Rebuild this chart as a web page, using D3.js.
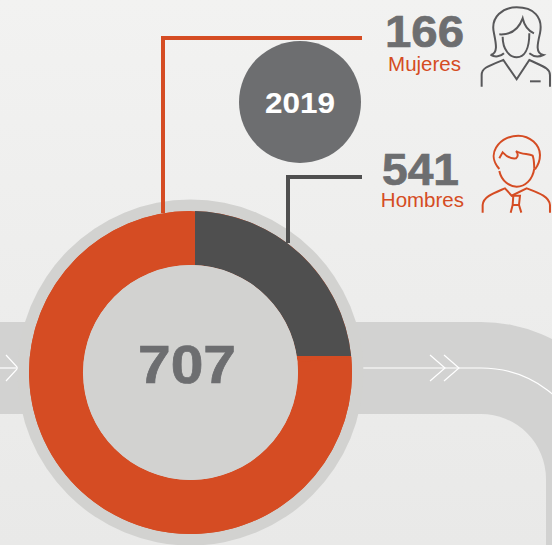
<!DOCTYPE html>
<html>
<head>
<meta charset="utf-8">
<script src="https://cdn.jsdelivr.net/npm/d3@7"></script>
<style>
  html, body { margin: 0; padding: 0; background: #efefef; overflow: hidden; }
  text { font-family: "Liberation Sans", Arial, sans-serif; }
</style>
</head>
<body>
<div id="chart"></div>
<script>
const categories = ["Hombres", "Mujeres"];
const values = [541, 166];
const total = 707;
const year = "2019";

const width = 552, height = 545;
const orange = "#d54c23", dark = "#4f4f4f", grey = "#6d6e70", band = "#d2d2d1";

const svg = d3.select("#chart").append("svg")
  .attr("width", width)
  .attr("height", height)
  .style("display", "block");

// Background
const defs = svg.append("defs");
const grad = defs.append("linearGradient")
  .attr("id", "bg").attr("x1", 0).attr("x2", 0).attr("y1", 0).attr("y2", 1);
grad.append("stop").attr("offset", "0%").attr("stop-color", "#f2f2f1");
grad.append("stop").attr("offset", "100%").attr("stop-color", "#e9e9e8");
svg.append("rect").attr("width", width).attr("height", height).attr("fill", "url(#bg)");

// Road behind the donut
const road = d3.path();
road.moveTo(0, 322);
road.lineTo(481, 322);
road.arc(481, 479, 157, -Math.PI / 2, 0);
road.lineTo(638, 545);
road.lineTo(546, 545);
road.lineTo(546, 479);
road.arc(481, 479, 65, 0, -Math.PI / 2, true);
road.lineTo(0, 414);
road.closePath();
svg.append("path").attr("d", road.toString()).attr("fill", band);

const roadLine = d3.path();
roadLine.moveTo(363, 368);
roadLine.lineTo(481, 368);
roadLine.arc(481, 479, 111, -Math.PI / 2, -0.3);
svg.append("path").attr("d", roadLine.toString())
  .attr("fill", "none").attr("stroke", "#fff").attr("stroke-width", 1.2);
svg.append("line").attr("x1", 0).attr("x2", 18).attr("y1", 368).attr("y2", 368)
  .attr("stroke", "#fff").attr("stroke-width", 1.2);

// Chevrons
[[18, 12], [445, 15], [459, 15]].forEach(([x, w]) => {
  svg.append("path")
    .attr("d", `M${x - w},355 L${x},368 L${x - w},381`)
    .attr("fill", "none").attr("stroke", "#fff").attr("stroke-width", 1.2);
});

// Donut
const cx = 190.5, cy = 372.5;
const donut = svg.append("g").attr("transform", `translate(${cx},${cy})`);
donut.append("circle").attr("r", 173).attr("fill", "#d2d2d0");

const pie = d3.pie().sort(null).value(d => d.value)
  .startAngle(2 * Math.PI * values[1] / total)
  .endAngle(2 * Math.PI + 2 * Math.PI * values[1] / total);
const arc = d3.arc().innerRadius(107.5).outerRadius(161.5);
const color = d3.scaleOrdinal().domain(categories).range([orange, dark]);

// The dark slice has straight cut edges in the original, not radial ones
defs.append("clipPath").attr("id", "cut")
  .append("rect").attr("x", 4.5).attr("y", -200).attr("width", 200).attr("height", 183.5);

donut.append("path")
  .attr("d", arc({ startAngle: 0, endAngle: 2 * Math.PI }))
  .attr("fill", orange);
donut.selectAll(".slice")
  .data(pie(categories.map((c, i) => ({ category: c, value: values[i] }))))
  .enter()
  .append("path")
  .attr("class", "slice")
  .attr("d", arc)
  .attr("fill", d => color(d.data.category))
  .attr("clip-path", d => d.data.category === "Mujeres" ? "url(#cut)" : null);

donut.append("circle").attr("r", 107.5).attr("fill", "#d2d2d0");

// Heavy numbers: stretched and stroked to get the wide bold digits
function bigNumber(sel, x, y, size, len, fill, txt, weight = 0.7) {
  sel.append("text")
    .attr("x", x).attr("y", y)
    .attr("font-size", size).attr("font-weight", "bold")
    .attr("fill", fill).attr("stroke", fill).attr("stroke-width", weight)
    .attr("textLength", len).attr("lengthAdjust", "spacingAndGlyphs")
    .text(txt);
}

bigNumber(svg, 138, 383, 53, 98, grey, total);

// Leader lines
svg.append("path").attr("d", "M362,38 H163 V213")
  .attr("fill", "none").attr("stroke", orange).attr("stroke-width", 4);
svg.append("path").attr("d", "M362,177 H288 V243")
  .attr("fill", "none").attr("stroke", dark).attr("stroke-width", 4);

// Year badge
svg.append("circle").attr("cx", 300).attr("cy", 102).attr("r", 61).attr("fill", grey);
bigNumber(svg, 265, 113, 29.5, 70, "#fff", year, 0.1);

// Labels
bigNumber(svg, 385, 47, 44, 79, grey, values[1]);
bigNumber(svg, 382, 185, 44, 77, grey, values[0]);

svg.append("text")
  .attr("x", 461).attr("y", 71)
  .attr("text-anchor", "end")
  .attr("font-size", 20.5)
  .attr("fill", orange)
  .text(categories[1]);
svg.append("text")
  .attr("x", 464).attr("y", 207)
  .attr("text-anchor", "end")
  .attr("font-size", 20.5)
  .attr("fill", orange)
  .text(categories[0]);

// Icons, drawn on a 3x grid
const woman = svg.append("g")
  .attr("transform", "translate(370,0) scale(0.3333)")
  .attr("fill", "none").attr("stroke", "#58585a").attr("stroke-width", 6);
[
  "M362,165 C385,160 378,130 372,100 C360,50 400,22 440,22 C490,22 520,50 510,100 C503,130 495,160 520,165 C505,172 490,170 478,160",
  "M362,165 C375,172 392,170 402,160",
  "M388,103 C420,105 445,90 458,55 C465,85 480,95 492,100",
  "M398,110 C398,150 420,172 440,172 C462,172 478,150 478,100",
  "M335,260 L335,225 C335,205 350,200 400,180 L440,238 L478,180 C520,200 540,205 540,225 L540,260",
  "M480,244 L512,244"
].forEach(d => woman.append("path").attr("d", d));

const man = svg.append("g")
  .attr("transform", "translate(370,125) scale(0.3333)")
  .attr("fill", "none").attr("stroke", orange).attr("stroke-width", 6);
[
  "M388,132 C370,112 366,88 378,68 C395,40 425,32 445,32 C480,32 510,60 510,90 C510,105 505,120 495,133",
  "M388,100 L398,82 C410,95 425,102 438,100 C445,95 445,85 438,78 C455,90 475,85 488,92 C493,105 492,120 493,130",
  "M388,138 C395,170 420,185 440,185 C465,185 488,165 493,130",
  "M338,263 L338,240 C340,215 370,205 405,190 L425,212 L470,190 C510,205 538,215 540,240 L540,263",
  "M425,212 L450,212 L447,240 L454,263",
  "M430,212 L428,240 L422,263 M428,240 L447,240"
].forEach(d => man.append("path").attr("d", d));
</script>
</body>
</html>
